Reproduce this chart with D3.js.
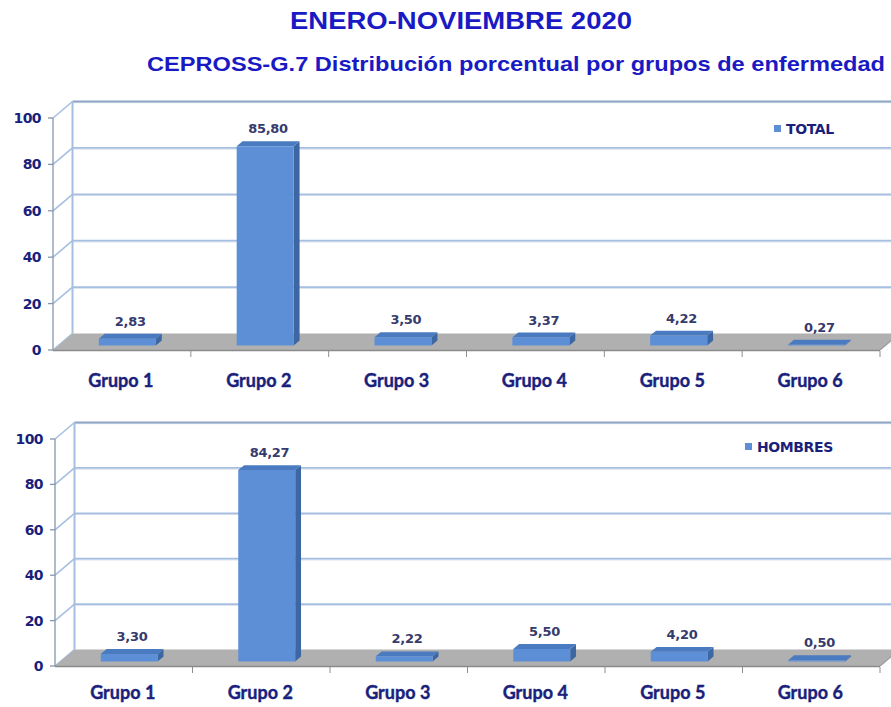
<!DOCTYPE html>
<html>
<head>
<meta charset="utf-8">
<script src="https://cdn.jsdelivr.net/npm/d3@7"></script>
<style>
  html, body { margin: 0; padding: 0; background: #ffffff; }
  svg { display: block; }
</style>
</head>
<body>
<svg id="chart" width="891" height="707"></svg>
<script>
// ---- DATA ----
const titleText = "ENERO-NOVIEMBRE 2020";
const subtitleText = "CEPROSS-G.7 Distribución porcentual por grupos de enfermedad";
const categories = ["Grupo 1", "Grupo 2", "Grupo 3", "Grupo 4", "Grupo 5", "Grupo 6"];
const totalValues = [2.83, 85.80, 3.50, 3.37, 4.22, 0.27];
const hombresValues = [3.30, 84.27, 2.22, 5.50, 4.20, 0.50];
const totalLabels = ["2,83", "85,80", "3,50", "3,37", "4,22", "0,27"];
const hombresLabels = ["3,30", "84,27", "2,22", "5,50", "4,20", "0,50"];
const yTicks = [0, 20, 40, 60, 80, 100];
const seriesNames = ["TOTAL", "HOMBRES"];

// ---- STYLE / LAYOUT ----
const svg = d3.select("#chart");
const titleColor = "#1a1ac4";
const navy = "#1a1f7c";
const labelColor = "#363a6c";
const barFront = "#5c8fd5";
const barTop = "#4a7bc0";
const barSide = "#3d67a3";
const gridColor = "#a6bfe0";
const DX = 19.5, DY = -16.5;       // depth offset of the 3D box
const barD0 = 0.28, barD1 = 0.58;  // bar depth span (fraction of box depth)

svg.append("text")
  .attr("x", 461).attr("y", 29)
  .attr("text-anchor", "middle")
  .attr("font-family", "Liberation Sans, Arial, sans-serif")
  .attr("font-weight", "bold").attr("font-size", 23)
  .attr("fill", titleColor)
  .attr("textLength", 342).attr("lengthAdjust", "spacingAndGlyphs")
  .text(titleText);

svg.append("text")
  .attr("x", 516).attr("y", 71)
  .attr("text-anchor", "middle")
  .attr("font-family", "Liberation Sans, Arial, sans-serif")
  .attr("font-weight", "bold").attr("font-size", 21)
  .attr("fill", titleColor)
  .attr("textLength", 738).attr("lengthAdjust", "spacingAndGlyphs")
  .text(subtitleText);

function drawPanel(cfg) {
  const g = svg.append("g");
  const x = d3.scaleBand().domain(categories)
    .range([cfg.x0, cfg.x1]).paddingInner(0.586).paddingOuter(0.293);
  const slot = d3.scaleBand().domain(categories).range([cfg.x0, cfg.x1]);
  const y = d3.scaleLinear().domain([0, 100]).range([cfg.y0, cfg.y0 - cfg.h]);

  const P = (px, py, d) => [px + d * DX, py + d * DY];
  const poly = pts => pts.map(p => p.join(",")).join(" ");

  // back wall
  const bl = P(cfg.x0, y(100), 1), br = P(cfg.x1 + 20, y(0), 1);
  g.append("rect")
    .attr("x", bl[0]).attr("y", bl[1])
    .attr("width", br[0] - bl[0]).attr("height", br[1] - bl[1])
    .attr("fill", "#ffffff");

  // gridlines on back wall and side wall
  yTicks.forEach(t => {
    const a = P(cfg.x0, y(t), 0), b = P(cfg.x0, y(t), 1), c = P(cfg.x1 + 20, y(t), 1);
    g.append("line").attr("x1", a[0]).attr("y1", a[1]).attr("x2", b[0]).attr("y2", b[1])
      .attr("stroke", gridColor).attr("stroke-width", 1.6);
    if (t > 0) {
      g.append("line").attr("x1", b[0]).attr("y1", b[1] + 1.2).attr("x2", c[0]).attr("y2", c[1] + 1.2)
        .attr("stroke", "#dde5f0").attr("stroke-width", 1.2);
      g.append("line").attr("x1", b[0]).attr("y1", b[1]).attr("x2", c[0]).attr("y2", c[1])
        .attr("stroke", t === 100 ? "#8ea5c3" : gridColor).attr("stroke-width", t === 100 ? 2.2 : 1.8);
    }
  });
  // back wall left edge
  const wl0 = P(cfg.x0, y(0), 1), wl1 = P(cfg.x0, y(100), 1);
  g.append("line").attr("x1", wl0[0]).attr("y1", wl0[1]).attr("x2", wl1[0]).attr("y2", wl1[1])
    .attr("stroke", gridColor).attr("stroke-width", 2);

  // floor
  const f0 = P(cfg.x0, y(0), 0), f1 = P(cfg.x1, y(0), 0), f2 = P(cfg.x1, y(0), 1), f3 = P(cfg.x0, y(0), 1);
  g.append("polygon").attr("points", poly([f0, f1, f2, f3])).attr("fill", "#b0b0b0");
  g.append("line").attr("x1", f0[0]).attr("y1", f0[1] + 0.5).attr("x2", f1[0]).attr("y2", f1[1] + 0.5)
    .attr("stroke", "#8a8a8a").attr("stroke-width", 1.6);
  g.append("line").attr("x1", f1[0]).attr("y1", f1[1]).attr("x2", f2[0]).attr("y2", f2[1])
    .attr("stroke", "#9a9a9a").attr("stroke-width", 1.2);

  // front value axis
  g.append("line").attr("x1", cfg.x0).attr("y1", y(0)).attr("x2", cfg.x0).attr("y2", y(100))
    .attr("stroke", "#8797ab").attr("stroke-width", 1.3);
  yTicks.forEach(t => {
    g.append("line").attr("x1", cfg.x0 - 5).attr("y1", y(t)).attr("x2", cfg.x0).attr("y2", y(t))
      .attr("stroke", "#8797ab").attr("stroke-width", 1.3);
    g.append("text").attr("x", cfg.x0 - 12).attr("y", y(t) + 5)
      .attr("text-anchor", "end")
      .attr("font-family", "DejaVu Sans, Verdana, sans-serif")
      .attr("font-weight", "bold").attr("font-size", 14)
      .attr("letter-spacing", -0.6)
      .attr("fill", navy).text(t);
  });

  // category ticks and labels
  categories.forEach((c, i) => {
    const xs = slot(c);
    if (i > 0) {
      g.append("line").attr("x1", xs).attr("y1", y(0) + 1).attr("x2", xs).attr("y2", y(0) + 7)
        .attr("stroke", "#8e8e8e").attr("stroke-width", 1);
    }
    g.append("text").attr("x", xs + slot.bandwidth() / 2 - 1).attr("y", cfg.labelY)
      .attr("text-anchor", "middle")
      .attr("font-family", "Lato, 'Open Sans', sans-serif")
      .attr("font-weight", "bold").attr("font-size", 18)
      .attr("stroke", navy).attr("stroke-width", 0.4)
      .attr("fill", navy).text(c);
  });
  g.append("line").attr("x1", cfg.x1).attr("y1", y(0) + 1).attr("x2", cfg.x1).attr("y2", y(0) + 7)
    .attr("stroke", "#8e8e8e").attr("stroke-width", 1);

  // bars
  cfg.values.forEach((v, i) => {
    const c = categories[i];
    const xl = x(c), xr = x(c) + x.bandwidth();
    const ftl = P(xl, y(v), barD0), ftr = P(xr, y(v), barD0);
    const fbl = P(xl, y(0), barD0), fbr = P(xr, y(0), barD0);
    const btl = P(xl, y(v), barD1), btr = P(xr, y(v), barD1), bbr = P(xr, y(0), barD1);
    g.append("polygon").attr("points", poly([ftr, btr, bbr, fbr])).attr("fill", barSide);
    g.append("polygon").attr("points", poly([ftl, ftr, btr, btl])).attr("fill", barTop);
    g.append("polygon").attr("points", poly([ftl, ftr, fbr, fbl])).attr("fill", barFront);
    const lp = P((xl + xr) / 2, y(v), barD1);
    g.append("text").attr("x", lp[0] - 3).attr("y", lp[1] - 8)
      .attr("text-anchor", "middle")
      .attr("font-family", "DejaVu Sans, Verdana, sans-serif")
      .attr("font-weight", "bold").attr("font-size", 13)
      .attr("letter-spacing", -0.3)
      .attr("fill", labelColor).text(cfg.labels[i]);
  });

  // legend
  g.append("rect").attr("x", cfg.legX).attr("y", cfg.legY - 9).attr("width", 7).attr("height", 7)
    .attr("fill", barFront);
  g.append("text").attr("x", cfg.legX + 12).attr("y", cfg.legY)
    .attr("font-family", "DejaVu Sans, Verdana, sans-serif")
    .attr("font-weight", "bold").attr("font-size", 14)
    .attr("letter-spacing", -0.4)
    .attr("fill", navy).text(cfg.name);
}

drawPanel({ values: totalValues, labels: totalLabels, name: seriesNames[0],
  x0: 53, x1: 880, y0: 350, h: 232, labelY: 387, legX: 774, legY: 134 });
drawPanel({ values: hombresValues, labels: hombresLabels, name: seriesNames[1],
  x0: 55, x1: 880, y0: 666, h: 227, labelY: 699, legX: 745, legY: 452 });
</script>
</body>
</html>
